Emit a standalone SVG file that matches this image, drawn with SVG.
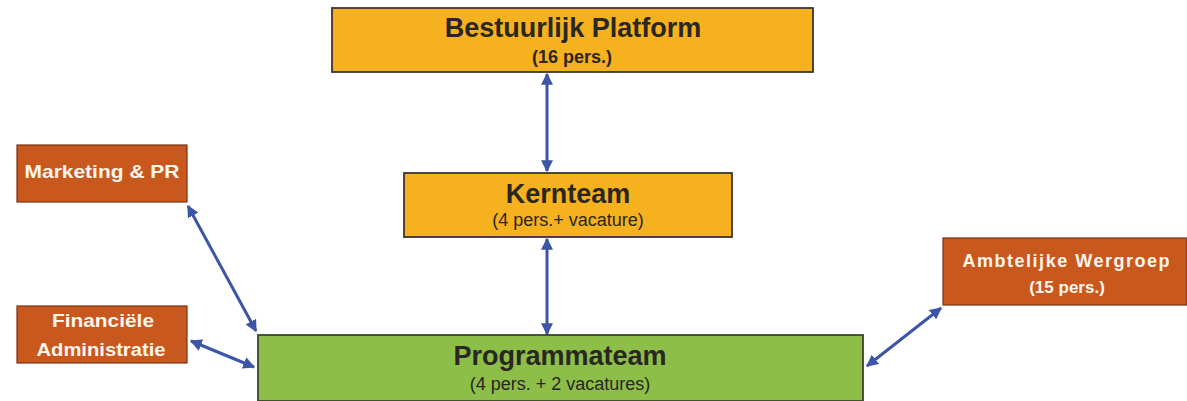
<svg xmlns="http://www.w3.org/2000/svg" width="1187" height="401" viewBox="0 0 1187 401">
<defs>
<style>
.gold{fill:#F6B11F;stroke:#3a3530;stroke-width:1.8}
.green{fill:#8CBE48;stroke:#3b4530;stroke-width:1.8}
.rust{fill:#C9581F;stroke:#7a3212;stroke-width:1.2}
.t{font-family:"Liberation Sans",Arial,sans-serif;text-anchor:middle}
.dark{fill:#2a2622}
.white{fill:#FFF6EC}
.b{font-weight:bold}
.conn{stroke:#3C55A6;stroke-width:3;fill:none;marker-start:url(#ah);marker-end:url(#ah)}
</style>
<marker id="ah" viewBox="0 0 10 10" refX="9" refY="5" markerWidth="4" markerHeight="4" orient="auto-start-reverse" markerUnits="strokeWidth">
<path d="M0,0 L10,5 L0,10 Z" fill="#3C55A6"/>
</marker>
</defs>
<rect width="1187" height="401" fill="#ffffff"/>
<g id="connectors">
<line class="conn" x1="547" y1="74" x2="547" y2="171"/>
<line class="conn" x1="547" y1="239" x2="547" y2="334"/>
<line class="conn" x1="188" y1="206" x2="256" y2="331"/>
<line class="conn" x1="191" y1="341" x2="254" y2="367"/>
<line class="conn" x1="941" y1="308" x2="867" y2="366"/>
</g>
<g id="bestuurlijk-platform">
<rect class="gold" x="332" y="8" width="481" height="64"/>
<text class="t dark b" x="573" y="37" font-size="27">Bestuurlijk Platform</text>
<text class="t dark b" x="572" y="63" font-size="18">(16 pers.)</text>
</g>
<g id="kernteam">
<rect class="gold" x="404" y="173" width="328" height="64"/>
<text class="t dark b" x="568" y="203" font-size="27">Kernteam</text>
<text class="t dark" x="568" y="226" font-size="18">(4 pers.+ vacature)</text>
</g>
<g id="programmateam">
<rect class="green" x="258" y="335" width="605" height="66"/>
<text class="t dark b" x="560" y="365" font-size="27">Programmateam</text>
<text class="t dark" x="560" y="390" font-size="18">(4 pers. + 2 vacatures)</text>
</g>
<g id="marketing-pr">
<rect class="rust" x="17" y="145" width="170" height="57"/>
<text class="t white b" x="102" y="178" font-size="19" textLength="155" lengthAdjust="spacingAndGlyphs">Marketing &amp; PR</text>
</g>
<g id="financiele-administratie">
<rect class="rust" x="17" y="306" width="170" height="57"/>
<text class="t white b" x="103" y="327" font-size="18" textLength="102" lengthAdjust="spacingAndGlyphs">Financiële</text>
<text class="t white b" x="101" y="356" font-size="18" textLength="129" lengthAdjust="spacingAndGlyphs">Administratie</text>
</g>
<g id="ambtelijke-wergroep">
<rect class="rust" x="943" y="238" width="244" height="67"/>
<text class="t white b" x="1066" y="267" font-size="18" textLength="207" lengthAdjust="spacing">Ambtelijke Wergroep</text>
<text class="t white b" x="1067" y="293" font-size="17">(15 pers.)</text>
</g>
</svg>
